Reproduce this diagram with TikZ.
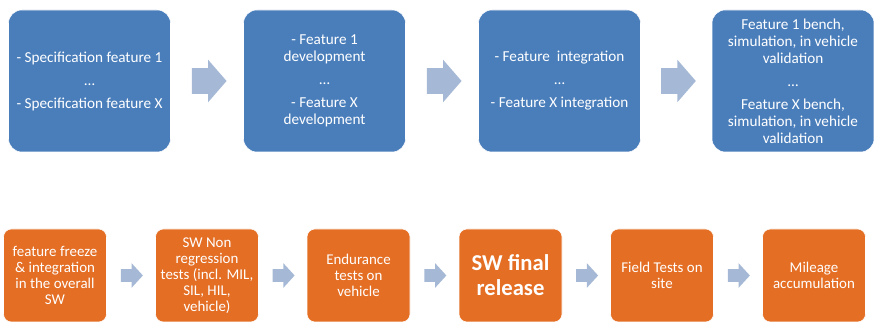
\documentclass[tikz,border=0pt]{standalone}
\usepackage{fontspec}
\setmainfont{Carlito}
\usetikzlibrary{shapes.arrows}
\definecolor{featblue}{HTML}{4A7EBB}
\definecolor{relorange}{HTML}{E46E24}
\definecolor{flowgrey}{HTML}{A5B8D5}
\tikzset{
	featbox/.style={fill=featblue, draw=white, rounded corners=10pt, minimum width=121.5pt, minimum height=106.5pt,
		inner sep=0pt, text=white, align=center, font=\fontsize{11.4}{12.75}\selectfont},
	relbox/.style={fill=relorange, draw=white, rounded corners=6pt, minimum width=77.25pt, minimum height=69.75pt,
		inner sep=0pt, text=white, align=center, font=\fontsize{11.2}{12}\selectfont},
	bigarrow/.style={single arrow, fill=flowgrey, inner xsep=0pt, inner ysep=9.4pt, minimum height=26pt,
		single arrow head extend=6.4pt, single arrow tip angle=98, xshift=-2.5pt},
	smallarrow/.style={single arrow, fill=flowgrey, inner xsep=0pt, inner ysep=4.5pt, minimum height=16.5pt,
		single arrow head extend=4.5pt, single arrow tip angle=95, xshift=-1.5pt}
}
\begin{document}
\begin{tikzpicture}[x=0.75pt, y=-0.75pt]
	\def\gap{4.5pt}
	\useasboundingbox (0,0) rectangle (874,323);
	% feature level
	\node[featbox] (spec) at (89.5,81) {- Specification feature 1\\[\gap] \dots\\[\gap] - Specification feature X};
	\node[featbox] (dev) at (324.5,81) {- Feature 1\\ development\\[\gap] \dots\\[\gap] - Feature X\\ development};
	\node[featbox] (integ) at (559.5,81) {- Feature\ \ integration\\[\gap] \dots\\[\gap] - Feature X integration};
	\node[featbox] (valid) at (793,81) {Feature 1 bench,\\ simulation, in vehicle\\ validation\\[\gap] \dots\\[\gap]
		Feature X bench,\\ simulation, in vehicle\\ validation};
	\path (spec) -- node[bigarrow] (a1) {} (dev);
	\path (dev) -- node[bigarrow] (a2) {} (integ);
	\path (integ) -- node[bigarrow] (a3) {} (valid);
	% software level
	\node[relbox] (freeze) at (55,275.5) {feature freeze\\ \& integration\\ in the overall\\ SW};
	\node[relbox] (nonreg) at (207,275.5) {SW Non\\ regression\\ tests (incl. MIL,\\ SIL, HIL,\\ vehicle)};
	\node[relbox] (endur) at (358.5,275.5) {Endurance\\ tests on\\ vehicle};
	\node[relbox, font=\fontsize{17}{18.75}\selectfont\bfseries] (final) at (510.5,275.5) {SW final\\ release};
	\node[relbox] (field) at (662,275.5) {Field Tests on\\ site};
	\node[relbox] (mile) at (814,275.5) {Mileage\\ accumulation};
	\path (freeze) -- node[smallarrow] (b1) {} (nonreg);
	\path (nonreg) -- node[smallarrow] (b2) {} (endur);
	\path (endur) -- node[smallarrow] (b3) {} (final);
	\path (final) -- node[smallarrow] (b4) {} (field);
	\path (field) -- node[smallarrow] (b5) {} (mile);
\end{tikzpicture}
\end{document}
